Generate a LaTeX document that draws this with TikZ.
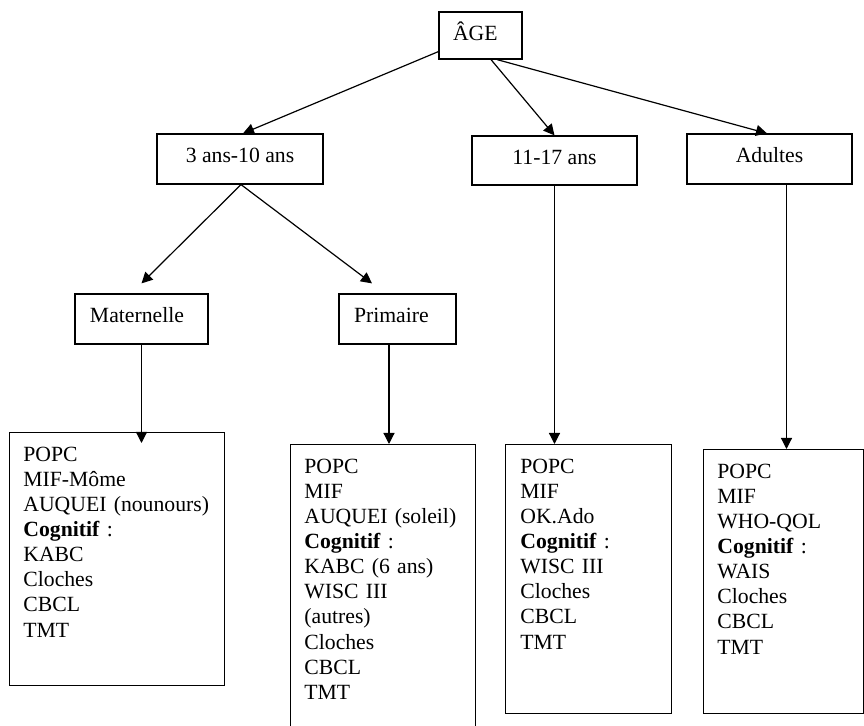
\documentclass[tikz,border=0pt]{standalone}
\usepackage{fontspec}
\setmainfont{Liberation Serif}
\usetikzlibrary{arrows.meta,calc}
\begin{document}
\begin{tikzpicture}[x=0.5pt,y=-0.5pt,
  font=\fontsize{10.85pt}{12.55pt}\selectfont,
  box/.style={draw,line width=0.6pt,inner sep=0pt,text height=8pt,text depth=4pt},
  cbox/.style={box,align=center},
  listbox/.style={draw,line width=0.6pt,inner sep=0pt,anchor=north west},
  listtext/.style={inner sep=0pt,anchor=north west,align=left,text width=110pt},
  arr/.style={line width=0.6pt,-{Triangle[length=5.5pt,width=5.5pt]}}
]
\useasboundingbox (0,0) rectangle (864,726);

% upper boxes
\node[box,align=left,inner xsep=7pt,text width=27.5pt,minimum height=23.5pt,text depth=2.8pt] (age) at (480.5,35.5) {ÂGE};
\node[cbox,minimum width=83pt,minimum height=25pt] (n3) at (240,159) {3 ans-10 ans};
\node[cbox,minimum width=82.5pt,minimum height=24.5pt] (n11) at (554.5,160.5) {11-17 ans};
\node[cbox,minimum width=82.5pt,minimum height=25pt] (nA) at (769.5,159) {Adultes};
\node[box,align=left,inner xsep=7.5pt,text width=51.5pt,minimum height=25pt] (mat) at (141.5,319) {Maternelle};
\node[box,align=left,inner xsep=7.5pt,text width=43.5pt,minimum height=25pt] (prim) at (397.5,319) {Primaire};

% list boxes
\node[listbox,minimum width=107.5pt,minimum height=126.5pt] (b1) at (9,432) {};
\node[listbox,minimum width=92.5pt,minimum height=145.5pt] (b2) at (290,444) {};
\node[listbox,minimum width=83pt,minimum height=134.5pt] (b3) at (505,444) {};
\node[listbox,minimum width=80pt,minimum height=132pt] (b4) at (703,449) {};

\node[listtext] (t1) at ($(b1.north west)+(14,11.4)$) {\strut POPC\\ MIF-Môme\\ AUQUEI (nounours)\\ \textbf{Cognitif} :\\ KABC\\ Cloches\\ CBCL\\ TMT};
\node[listtext] (t2) at ($(b2.north west)+(14,11.4)$) {\strut POPC\\ MIF\\ AUQUEI (soleil)\\ \textbf{Cognitif} :\\ KABC (6 ans)\\ WISC III\\ (autres)\\ Cloches\\ CBCL\\ TMT};
\node[listtext] (t3) at ($(b3.north west)+(15,11.4)$) {\strut POPC\\ MIF\\ OK.Ado\\ \textbf{Cognitif} :\\ WISC III\\ Cloches\\ CBCL\\ TMT};
\node[listtext] (t4) at ($(b4.north west)+(14,11.4)$) {\strut POPC\\ MIF\\ WHO-QOL\\ \textbf{Cognitif} :\\ WAIS\\ Cloches\\ CBCL\\ TMT};

% connectors
\draw[arr] ($(age.south west)+(0,-8)$) -- ($(n3.north)+(3,0)$);
\draw[arr] ($(age.south)+(10.5,0)$) -- (n11.north);
\draw[arr] ($(age.south)+(16.5,0)$) -- ($(nA.north)+(-2.5,0)$);
\draw[arr] ($(n3.south)+(1,0)$) -- ($(mat.north)+(0,-10)$);
\draw[arr] ($(n3.south)+(1,0)$) -- ($(prim.north)+(-25.5,-10)$);
\draw[arr] (mat.south) -- ($(mat.south |- b1.north)+(0,11)$);
\draw[arr] ($(prim.south)+(-8.5,0)$) coordinate (ps) -- (ps |- b2.north);
\draw[arr] (n11.south) -- (n11.south |- b3.north);
\draw[arr] ($(nA.south)+(17,0)$) coordinate (as) -- (as |- b4.north);
\end{tikzpicture}
\end{document}
